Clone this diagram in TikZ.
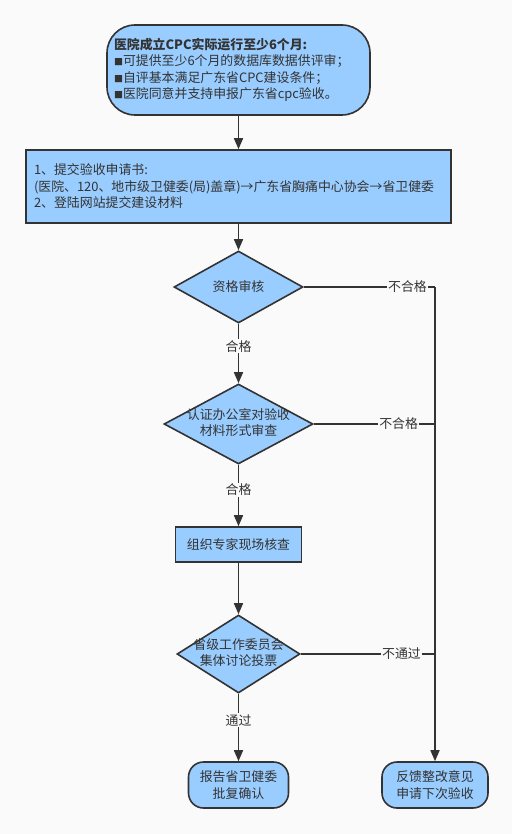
\documentclass[tikz,border=0pt]{standalone}
\usepackage{fontspec}
\setmainfont{Noto Sans CJK SC}
\usepackage{xcolor}
\usepackage{tikz}
\usetikzlibrary{arrows.meta, shapes.geometric}

\definecolor{boxblue}{HTML}{99CCFF}
\definecolor{inkgray}{HTML}{333333}
\definecolor{canvas}{HTML}{FAFAFA}

\newcommand{\sqmark}{{\fontsize{9}{9}\selectfont ■}}
\newcommand{\dlines}[2]{\makebox[0pt]{\begin{tabular}{@{}c@{}}#1\\#2\end{tabular}}}

\tikzset{
  base/.style={draw=inkgray, fill=boxblue, line width=1.6pt, text=inkgray,
    font=\fontsize{12.9}{16.5}\selectfont},
  startbox/.style={base, rounded corners=28pt, minimum width=263pt, minimum height=90pt,
    text width=249pt, inner xsep=7pt, inner ysep=0pt, align=left},
  stepbox/.style={base, rectangle, inner sep=0pt},
  decision/.style={base, diamond, inner sep=0pt},
  endbox/.style={base, rounded corners=15pt, inner sep=0pt, align=center},
  flow/.style={draw=inkgray, line width=1.6pt, -{Triangle[length=11pt,width=9pt]}},
  link/.style={draw=inkgray, line width=1.6pt},
  lbl/.style={fill=canvas, inner sep=1pt, text=inkgray, font=\fontsize{12.9}{14}\selectfont}
}

\begin{document}
\begin{tikzpicture}[x=1pt, y=-1pt]
            \fill[canvas] (0,0) rectangle (512,834);
            \useasboundingbox (0,0) rectangle (512,834);
            % main column
            \node[startbox] (start) at (238.5,70) {{\bfseries 医院成立CPC实际运行至少6个月:}\\
              \sqmark 可提供至少6个月的数据库数据供评审；\\
              \sqmark 自评基本满足广东省CPC建设条件；\\
              \sqmark 医院同意并支持申报广东省cpc验收。};
            \node[stepbox, minimum width=425pt, minimum height=73pt, text width=409pt,
              inner xsep=8pt, align=left] (apply) at (238.5,186.5)
              {1、提交验收申请书:\\
              (医院、120、地市级卫健委(局)盖章)→广东省胸痛中心协会→省卫健委\\
              2、登陆网站提交建设材料};
            \node[decision, minimum width=129pt, minimum height=72pt] (qual) at (238.5,287) {\makebox[0pt]{资格审核}};
            \node[decision, minimum width=149pt, minimum height=80pt] (form) at (238.5,424) {\dlines{认证办公室对验收}{材料形式审查}};
            \node[stepbox, minimum width=126pt, minimum height=35pt] (site) at (238.5,544.5) {组织专家现场核查};
            \node[decision, minimum width=123pt, minimum height=78pt] (vote) at (238.5,654) {\dlines{省级工作委员会}{集体讨论投票}};
            \node[endbox, minimum width=100pt, minimum height=46pt] (ok) at (238.5,785) {报告省卫健委\\批复确认};
            \node[endbox, minimum width=106pt, minimum height=46pt] (back) at (435,785) {反馈整改意见\\申请下次验收};
            % right column joints
            \coordinate (j1) at (back.north |- qual.east);
            \coordinate (j2) at (back.north |- form.east);
            \coordinate (j3) at (back.north |- vote.east);
            % connectors
            \draw[flow] (start) -- (apply);
            \draw[flow] (apply) -- (qual);
            \draw[flow] (qual) -- node[lbl, pos=.38] {合格} (form);
            \draw[flow] (form) -- node[lbl, pos=.41] {合格} (site);
            \draw[flow] (site) -- (vote);
            \draw[flow] (vote) -- node[lbl, pos=.39] {通过} (ok);
            \draw[link] (qual.east) -- node[lbl, pos=.79] {不合格} (j1);
            \draw[link] (form.east) -- node[lbl, pos=.70] {不合格} (j2);
            \draw[link] (vote.east) -- node[lbl, pos=.75] {不通过} (j3);
            \draw[flow] (j1) -- (back);
\end{tikzpicture}
\end{document}
